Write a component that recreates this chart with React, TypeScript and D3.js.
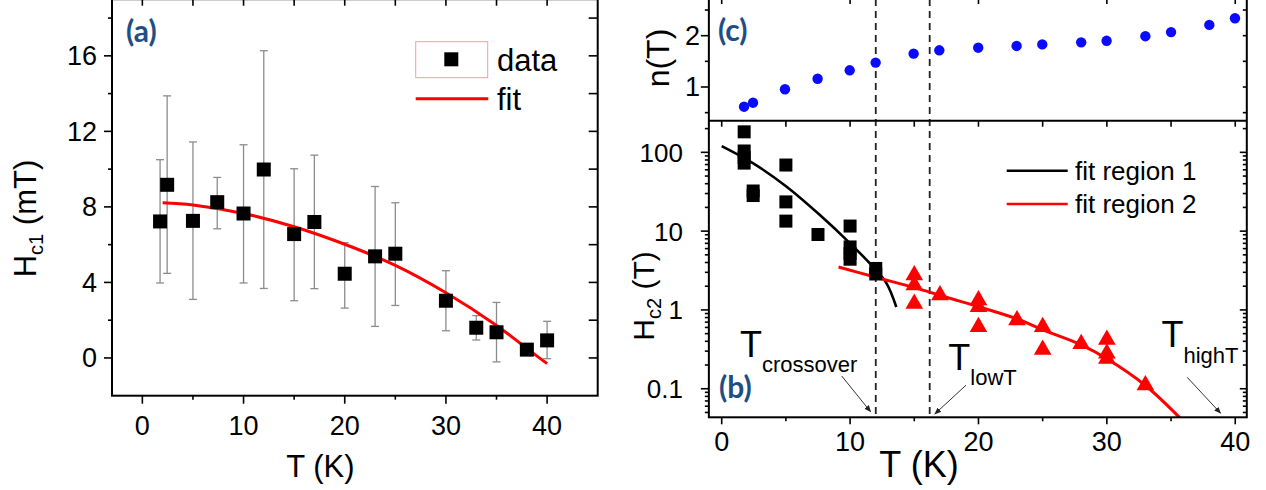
import React from "react";
import * as d3 from "d3";

const W = 1266;
const H = 490;
const SANS = "Liberation Sans, Arial, sans-serif";
const TAG_FONT = "Lato, 'Open Sans', sans-serif";
const TAG_COLOR = "#1f4e85";

// ---- panel (a): Hc1 (mT) vs T (K)
const hc1T = [1.75, 2.45, 5, 7.4, 10, 12, 15, 17, 20, 23, 25, 30, 33, 35, 38, 40];
const hc1Val = [7.23, 9.17, 7.26, 8.25, 7.65, 9.98, 6.56, 7.2, 4.46, 5.38, 5.52, 3.03, 1.6, 1.36, 0.44, 0.93];
const hc1Hi = [10.5, 13.88, 11.44, 9.56, 11.29, 16.27, 10.02, 10.74, 6.1, 9.08, 8.22, 4.62, 2.24, 2.94, null, 1.94];
const hc1Lo = [3.97, 4.48, 3.1, 6.84, 3.97, 3.68, 3.03, 3.67, 2.64, 1.67, 2.78, 1.44, 0.95, -0.21, null, -0.04];
const hc1FitT = [2, 5, 10, 15, 20, 25, 30, 35, 38, 40];
const hc1Fit = [8.22, 8.1, 7.65, 6.95, 6.02, 4.9, 3.45, 1.72, 0.5, -0.3];

// ---- panel (c): n(T)
const nT = [1.74, 2.44, 4.93, 7.47, 9.97, 11.99, 14.95, 16.95, 19.98, 22.97, 24.97, 28, 29.98, 33, 35, 37.98, 39.98];
const nVal = [0.616, 0.694, 0.955, 1.16, 1.325, 1.475, 1.65, 1.715, 1.766, 1.8, 1.83, 1.87, 1.9, 1.99, 2.07, 2.21, 2.34];

// ---- panel (b): Hc2 (T) vs T (K)
const sqT = [1.75, 1.75, 1.75, 1.75, 2.45, 2.45, 5, 5, 5, 7.5, 10, 10, 10, 10, 12, 12];
const sqH = [182, 104, 86, 73, 32.3, 28.3, 69, 23.5, 13.4, 9.06, 11.6, 6.3, 5.2, 4.4, 3.36, 2.86];
const triT = [15, 15, 15, 17, 20, 20, 20, 23, 25, 25, 28, 30, 30, 30, 33];
const triH = [2.76, 2.06, 1.2, 1.54, 1.33, 1.09, 0.61, 0.74, 0.61, 0.314, 0.37, 0.42, 0.28, 0.24, 0.111];
const fit1T = [0, 2.46, 5.06, 7.65, 10, 11.8, 12.85, 13.6];
const fit1H = [120, 72.5, 36.6, 16, 7, 3.5, 2.16, 1.09];
const fit2T = [9.1, 12, 15, 17.5, 20, 23, 25, 28, 30, 33, 36];
const fit2H = [3.5, 2.6, 1.92, 1.45, 1.1, 0.77, 0.56, 0.36, 0.24, 0.11, 0.038];
const crossT = [12, 16.2];

// scales
const xA = d3.scaleLinear().domain([-3, 45]).range([112, 597.7]);
const yA = d3.scaleLinear().domain([-2, 19]).range([395.7, -0.8]);
const xR = d3.scaleLinear().domain([-1, 40.9]).range([708.86, 1246.8]);
const yC = d3.scaleLinear().domain([0.343, 2.715]).range([120.7, -1]);
const yB = d3.scaleLog().domain([0.0434, 252]).range([417.3, 120.7]);

const range = (a: number, b: number, s: number) => d3.range(a, b + 1e-9, s);

const logMinor: number[] = [];
[0.01, 0.1, 1, 10, 100].forEach((d) => {
  for (let k = 2; k <= 9; k++) {
    const v = d * k;
    if (v > 0.0434 && v < 252) logMinor.push(v);
  }
});
const logMajor = [0.1, 1, 10, 100];

function Tick({ x1, y1, x2, y2 }: any) {
  return <line x1={x1} y1={y1} x2={x2} y2={y2} stroke="#000" strokeWidth={1.6} />;
}

export default function App() {
  const [aL, aR] = xA.range();
  const [aB, aT] = yA.range();
  const [rL, rR] = xR.range();
  const cTop = yC.range()[1];
  const mid = yC.range()[0];
  const bBot = yB.range()[0];

  const fitA = d3
    .line<number>()
    .x((_, i) => xA(hc1FitT[i]))
    .y((d) => yA(d))
    .curve(d3.curveCatmullRom)(hc1Fit);
  const fit1 = d3
    .line<number>()
    .x((_, i) => xR(fit1T[i]))
    .y((d) => yB(d))
    .curve(d3.curveCatmullRom)(fit1H);
  const fit2 = d3
    .line<number>()
    .x((_, i) => xR(fit2T[i]))
    .y((d) => yB(d))
    .curve(d3.curveCatmullRom)(fit2H);
  const tri = d3.symbol(d3.symbolTriangle, 135)();

  return (
    <svg
      width={W}
      height={H}
      style={{ position: "absolute", left: 0, top: 0, background: "#fff" }}
      fontFamily={SANS}
    >
      <defs>
        <clipPath id="clipB">
          <rect x={rL} y={mid} width={rR - rL} height={bBot - mid} />
        </clipPath>
        <marker id="arr" viewBox="0 0 10 10" refX="9" refY="5" markerWidth="7" markerHeight="7" orient="auto">
          <path d="M0,1 L10,5 L0,9 z" fill="#222" />
        </marker>
      </defs>
      <rect x={0} y={0} width={W} height={H} fill="#fff" />

      {/* ================= panel (a) ================= */}
      <g>
        {/* error bars */}
        {hc1T.map((t, i) =>
          hc1Hi[i] == null ? null : (
            <g key={"e" + i} stroke="#8c8c8c" strokeWidth={1.3}>
              <line x1={xA(t)} x2={xA(t)} y1={yA(hc1Hi[i] as number)} y2={yA(hc1Lo[i] as number)} />
              <line x1={xA(t) - 4} x2={xA(t) + 4} y1={yA(hc1Hi[i] as number)} y2={yA(hc1Hi[i] as number)} />
              <line x1={xA(t) - 4} x2={xA(t) + 4} y1={yA(hc1Lo[i] as number)} y2={yA(hc1Lo[i] as number)} />
            </g>
          )
        )}
        <path d={fitA || ""} fill="none" stroke="#ff0000" strokeWidth={3} />
        {hc1T.map((t, i) => (
          <rect key={"s" + i} x={xA(t) - 7} y={yA(hc1Val[i]) - 7} width={14} height={14} fill="#000" />
        ))}

        {/* frame */}
        <rect x={aL} y={aT} width={aR - aL} height={aB - aT} fill="none" stroke="#000" strokeWidth={2} />
        {/* left ticks */}
        {range(0, 16, 4).map((v) => (
          <g key={"al" + v}>
            <Tick x1={aL - 8} x2={aL} y1={yA(v)} y2={yA(v)} />
            <text x={aL - 15} y={yA(v) + 9.5} fontSize={27} textAnchor="end">
              {v}
            </text>
          </g>
        ))}
        {range(2, 18, 4).map((v) => (
          <Tick key={"alm" + v} x1={aL - 4} x2={aL} y1={yA(v)} y2={yA(v)} />
        ))}
        {/* right ticks */}
        {range(0, 18, 2).map((v) => (
          <Tick key={"ar" + v} x1={aR - 9} x2={aR} y1={yA(v)} y2={yA(v)} />
        ))}
        {/* bottom ticks */}
        {range(0, 40, 10).map((v) => (
          <g key={"ab" + v}>
            <Tick x1={xA(v)} x2={xA(v)} y1={aB} y2={aB + 8} />
            <text x={xA(v)} y={435} fontSize={27} textAnchor="middle">
              {v}
            </text>
          </g>
        ))}
        {range(5, 35, 10).map((v) => (
          <Tick key={"abm" + v} x1={xA(v)} x2={xA(v)} y1={aB} y2={aB + 4} />
        ))}
        {/* top ticks */}
        {range(0, 40, 5).map((v) => (
          <Tick key={"at" + v} x1={xA(v)} x2={xA(v)} y1={aT} y2={aT + 6.5} />
        ))}

        <text x={(xA(15) + xA(20)) / 2 + 1} y={477} fontSize={31} textAnchor="middle">
          T (K)
        </text>
        <text transform={`translate(36, 218.5) rotate(-90)`} fontSize={31} textAnchor="middle">
          H
          <tspan fontSize={20} dy={7}>
            c1
          </tspan>
          <tspan dy={-7}> (mT)</tspan>
        </text>
        <text x={126} y={42} fontSize={30} fontWeight={700} fill={TAG_COLOR} fontFamily={TAG_FONT}>
          (a)
        </text>

        {/* legend */}
        <rect x={415.7} y={41.7} width={72} height={36} fill="none" stroke="#f2a0a0" strokeWidth={1} />
        <rect x={451.3 - 7} y={59.3 - 7} width={14} height={14} fill="#000" />
        <text x={497} y={70.5} fontSize={31}>
          data
        </text>
        <line x1={415.7} x2={488.3} y1={98.7} y2={98.7} stroke="#ff0000" strokeWidth={3} />
        <text x={497} y={110} fontSize={31}>
          fit
        </text>
      </g>

      {/* ================= panels (c) and (b) ================= */}
      <g>
        {/* dashed crossover lines */}
        {crossT.map((t) => (
          <line
            key={"d" + t}
            x1={xR(t)}
            x2={xR(t)}
            y1={cTop}
            y2={bBot}
            stroke="#222"
            strokeWidth={1.8}
            strokeDasharray="7,5"
          />
        ))}

        {/* (c) points */}
        {nT.map((t, i) => (
          <circle key={"n" + i} cx={xR(t)} cy={yC(nVal[i])} r={5.2} fill="#0a0aff" />
        ))}

        {/* (b) fits and points */}
        <g clipPath="url(#clipB)">
          <path d={fit1 || ""} fill="none" stroke="#000" strokeWidth={2.6} />
          <path d={fit2 || ""} fill="none" stroke="#ff0000" strokeWidth={3} />
        </g>
        {sqT.map((t, i) => (
          <rect key={"q" + i} x={xR(t) - 6.5} y={yB(sqH[i]) - 6.5} width={13} height={13} fill="#000" />
        ))}
        {triT.map((t, i) => (
          <path key={"t" + i} d={tri || ""} transform={`translate(${xR(t)},${yB(triH[i])})`} fill="#ff0000" />
        ))}

        {/* frames */}
        <rect x={rL} y={cTop} width={rR - rL} height={bBot - cTop} fill="none" stroke="#000" strokeWidth={2} />
        <line x1={rL} x2={rR} y1={mid} y2={mid} stroke="#000" strokeWidth={2} />

        {/* (c) ticks */}
        {[1, 2].map((v) => (
          <g key={"cl" + v}>
            <Tick x1={rL - 8} x2={rL} y1={yC(v)} y2={yC(v)} />
            <text x={700} y={yC(v) + 9.5} fontSize={27} textAnchor="end">
              {v}
            </text>
          </g>
        ))}
        {[0.5, 1.5, 2.5].map((v) => (
          <Tick key={"clm" + v} x1={rL - 4} x2={rL} y1={yC(v)} y2={yC(v)} />
        ))}
        {[0.5, 1, 1.5, 2, 2.5].map((v) => (
          <Tick key={"cr" + v} x1={rR - 4} x2={rR} y1={yC(v)} y2={yC(v)} />
        ))}
        {range(0, 40, 10).map((v) => (
          <Tick key={"ct" + v} x1={xR(v)} x2={xR(v)} y1={cTop} y2={cTop + 5} />
        ))}
        {range(0, 40, 5).map((v) => (
          <Tick key={"cb" + v} x1={xR(v)} x2={xR(v)} y1={mid} y2={mid + 6} />
        ))}

        {/* (b) ticks */}
        {logMajor.map((v) => (
          <g key={"bl" + v}>
            <Tick x1={rL - 8} x2={rL} y1={yB(v)} y2={yB(v)} />
            <Tick x1={rR - 7} x2={rR} y1={yB(v)} y2={yB(v)} />
            <text x={683} y={yB(v) + 9.5} fontSize={26} textAnchor="end">
              {v}
            </text>
          </g>
        ))}
        {logMinor.map((v) => (
          <g key={"blm" + v}>
            <Tick x1={rL - 4} x2={rL} y1={yB(v)} y2={yB(v)} />
            <Tick x1={rR - 4} x2={rR} y1={yB(v)} y2={yB(v)} />
          </g>
        ))}
        {range(0, 40, 10).map((v) => (
          <g key={"bb" + v}>
            <Tick x1={xR(v)} x2={xR(v)} y1={bBot} y2={bBot + 7} />
            <text x={xR(v)} y={450.7} fontSize={27} textAnchor="middle">
              {v}
            </text>
          </g>
        ))}
        {range(5, 35, 10).map((v) => (
          <Tick key={"bbm" + v} x1={xR(v)} x2={xR(v)} y1={bBot} y2={bBot + 4} />
        ))}

        {/* labels */}
        <text x={919} y={476.7} fontSize={36} textAnchor="middle">
          T (K)
        </text>
        <text transform={`translate(669, 58) rotate(-90)`} fontSize={32} textAnchor="middle">
          n(T)
        </text>
        <text transform={`translate(654, 296) rotate(-90)`} fontSize={30} textAnchor="middle">
          H
          <tspan fontSize={20} dy={7}>
            c2
          </tspan>
          <tspan dy={-7}> (T)</tspan>
        </text>
        <text x={718} y={41} fontSize={30} fontWeight={700} fill={TAG_COLOR} fontFamily={TAG_FONT}>
          (c)
        </text>
        <text x={719} y={397.5} fontSize={30} fontWeight={700} fill={TAG_COLOR} fontFamily={TAG_FONT}>
          (b)
        </text>

        {/* legend (b) */}
        <line x1={1006.7} x2={1067.7} y1={170.7} y2={170.7} stroke="#000" strokeWidth={2.6} />
        <text x={1075} y={180} fontSize={26}>
          fit region 1
        </text>
        <line x1={1006.7} x2={1067.7} y1={204} y2={204} stroke="#ff0000" strokeWidth={2.6} />
        <text x={1075} y={212.7} fontSize={26}>
          fit region 2
        </text>

        {/* annotations */}
        <text x={xR(1.43)} y={yB(0.255)} fontSize={36}>
          T
          <tspan fontSize={22} dy={15}>
            crossover
          </tspan>
        </text>
        <text x={xR(17.65)} y={yB(0.171)} fontSize={36}>
          T
          <tspan fontSize={22} dy={15}>
            lowT
          </tspan>
        </text>
        <text x={xR(34.25)} y={yB(0.339)} fontSize={36}>
          T
          <tspan fontSize={22} dy={16.5}>
            highT
          </tspan>
        </text>
        <g stroke="#333" strokeWidth={1}>
          <line x1={xR(9.35)} y1={yB(0.145)} x2={xR(11.6)} y2={yB(0.051)} markerEnd="url(#arr)" />
          <line x1={xR(19.03)} y1={yB(0.111)} x2={xR(16.6)} y2={yB(0.0478)} markerEnd="url(#arr)" />
          <line x1={xR(36.26)} y1={yB(0.1396)} x2={xR(38.86)} y2={yB(0.0488)} markerEnd="url(#arr)" />
        </g>
      </g>
    </svg>
  );
}
